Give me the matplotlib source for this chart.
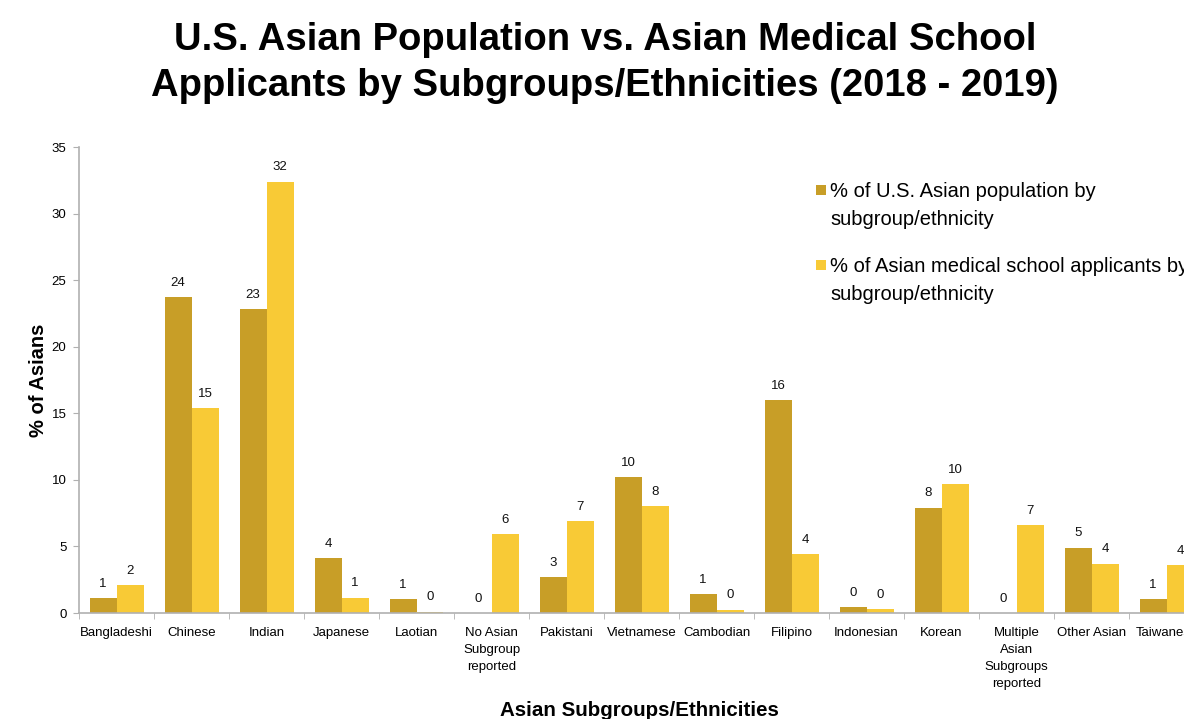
import matplotlib

matplotlib.use("Agg")
import matplotlib.pyplot as plt
import numpy as np
from matplotlib.patches import Rectangle

plt.rcParams["font.family"] = ["Liberation Sans", "DejaVu Sans"]

categories = ["Bangladeshi", "Chinese", "Indian", "Japanese", "Laotian",
              "No Asian\nSubgroup\nreported", "Pakistani", "Vietnamese",
              "Cambodian", "Filipino", "Indonesian", "Korean",
              "Multiple\nAsian\nSubgroups\nreported", "Other Asian", "Taiwanese"]
population_pct = [1.1, 23.7, 22.8, 4.1, 1.05, 0.0, 2.7, 10.2, 1.4, 16.0,
                  0.45, 7.9, 0.0, 4.9, 1.05]
applicant_pct = [2.1, 15.4, 32.4, 1.15, 0.1, 5.9, 6.9, 8.0, 0.25, 4.4,
                 0.3, 9.7, 6.6, 3.7, 3.6]
series_labels = ["% of U.S. Asian population by\nsubgroup/ethnicity",
                 "% of Asian medical school applicants by\nsubgroup/ethnicity"]
colors = ["#C89E27", "#F8CA36"]

W, H = 1184, 719
fig = plt.figure(figsize=(W / 100, H / 100), dpi=100)
# axes runs off the right edge, like the cropped original
ax = fig.add_axes([79 / W, (H - 613) / H, 1125 / W, 466 / H])

x = np.arange(len(categories))
bw = 0.36
for i, (vals, col) in enumerate(zip([population_pct, applicant_pct], colors)):
    pos = x + (i - 0.5) * bw
    ax.bar(pos, vals, width=bw, color=col, edgecolor="none", zorder=2)
    for xp, v in zip(pos, vals):
        ax.annotate(f"{round(v):d}", (xp, v), xytext=(0, 6),
                    textcoords="offset points", ha="center", va="bottom",
                    fontsize=9.5, color="#111111")

ax.set_xlim(-0.5, len(categories) - 0.5)
ax.set_ylim(0, 35)
ax.set_yticks(range(0, 36, 5))
ax.set_xticks(x)
ax.set_xticklabels(categories, fontsize=9.5, va="top", linespacing=1.55)
ax.set_xticks(np.arange(-0.5, len(categories), 1), minor=True)
ax.tick_params(axis="x", which="major", length=0, pad=10)
ax.tick_params(axis="x", which="minor", length=4, color="#b0b0b0", direction="out")
ax.tick_params(axis="y", length=4, color="#b0b0b0", labelsize=9.5, pad=5)

for side in ["top", "right"]:
    ax.spines[side].set_visible(False)
for side in ["left", "bottom"]:
    ax.spines[side].set_color("#b0b0b0")
    ax.spines[side].set_linewidth(1.2)

fig.text(38 / W, 1 - 380 / H, "% of Asians", rotation=90, ha="center",
         va="center", fontsize=14.5, fontweight="bold")
fig.text(639 / W, 1 - 711 / H, "Asian Subgroups/Ethnicities", ha="center",
         va="center", fontsize=14.8, fontweight="bold")

fig.text(605 / W, 1 - 63 / H,
         "U.S. Asian Population vs. Asian Medical School\n"
         "Applicants by Subgroups/Ethnicities (2018 - 2019)",
         ha="center", va="center", fontsize=27.5, fontweight="bold",
         linespacing=1.38)

# legend, square aligned with first text line
for j, (lab, col) in enumerate(zip(series_labels, colors)):
    ytop = 182 + j * 75
    fig.patches.append(Rectangle((816 / W, 1 - (ytop + 13) / H), 10 / W, 10 / H,
                                 transform=fig.transFigure, facecolor=col,
                                 edgecolor="none"))
    fig.text(830 / W, 1 - ytop / H, lab, ha="left", va="top", fontsize=14.5,
             linespacing=1.6)

fig.savefig("out.png", dpi=100, facecolor="white")
